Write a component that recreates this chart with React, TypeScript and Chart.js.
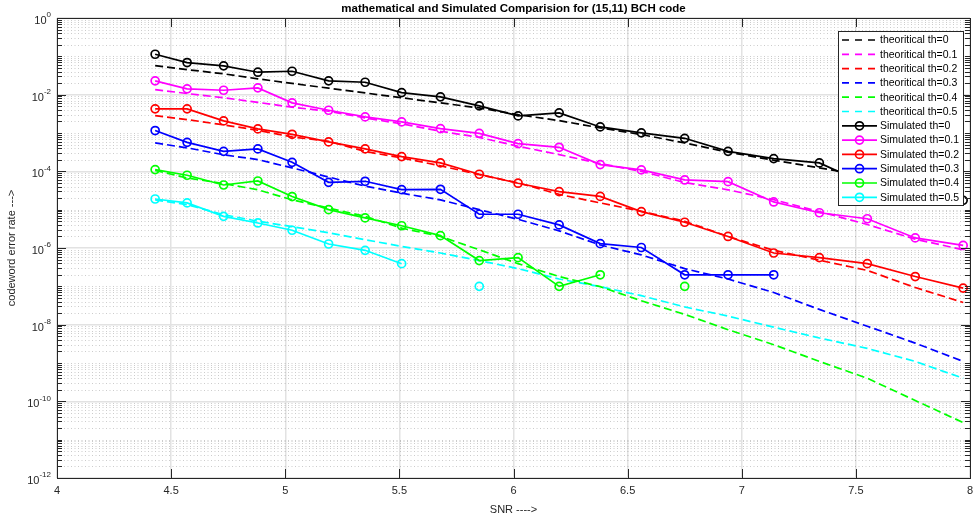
import React, { useEffect, useRef } from 'react';
import { Chart, registerables } from 'chart.js';

Chart.register(...registerables);

// ---------------- data ----------------
const SNR = [4.43, 4.57, 4.73, 4.88, 5.03, 5.19, 5.35, 5.51, 5.68, 5.85, 6.02, 6.2, 6.38, 6.56, 6.75, 6.94, 7.14, 7.34, 7.55, 7.76, 7.97];

const THEORY_TH0 = [0.0575, 0.045, 0.035, 0.0259, 0.0196, 0.0148, 0.0111, 0.0083, 0.0061, 0.0045, 0.003, 0.0021, 0.00136, 0.00091, 0.00055, 0.000316, 0.000195, 0.000123, 7.6e-5, 4.7e-5, 2.9e-5];
const THEORY_TH1 = [0.0136, 0.0107, 0.0083, 0.0063, 0.0047, 0.0037, 0.00247, 0.00173, 0.00111, 0.00077, 0.00045, 0.000274, 0.000159, 0.0001, 5.1e-5, 3.3e-5, 1.82e-5, 8.9e-6, 4.1e-6, 1.7e-6, 9e-7];
const THEORY_TH2 = [0.00284, 0.00224, 0.00163, 0.00118, 0.00079, 0.00061, 0.00033, 0.000224, 0.00014, 8.2e-5, 5e-5, 2.5e-5, 1.5e-5, 9.1e-6, 5e-6, 2e-6, 8.7e-7, 4.8e-7, 2.6e-7, 9.3e-8, 3.8e-8];
const THEORY_TH3 = [0.00055, 0.00041, 0.00027, 0.000203, 0.000123, 7.1e-5, 4.1e-5, 2.7e-5, 1.8e-5, 1.0e-5, 5.6e-6, 2.8e-6, 1.2e-6, 6.6e-7, 2.9e-7, 1.55e-7, 6.9e-8, 2.5e-8, 9.1e-9, 3.3e-9, 1.1e-9];
const THEORY_TH4 = [0.000106, 6.7e-5, 4.8e-5, 3.3e-5, 1.8e-5, 1.1e-5, 6.7e-6, 3.3e-6, 2e-6, 9e-7, 3.9e-7, 1.8e-7, 9.8e-8, 4.2e-8, 1.86e-8, 7.4e-9, 3e-9, 1.1e-9, 4e-10, 1.05e-10, 2.8e-11];
const THEORY_TH5 = [1.8e-5, 1.35e-5, 7.4e-6, 5e-6, 3.6e-6, 2.5e-6, 1.65e-6, 1.1e-6, 7.4e-7, 4.7e-7, 2.9e-7, 1.55e-7, 9.8e-8, 5.7e-8, 2.9e-8, 1.67e-8, 8.6e-9, 4.5e-9, 2.4e-9, 1.1e-9, 4e-10];

const SIM_TH0 = [0.1135, 0.0689, 0.0565, 0.0385, 0.0408, 0.0229, 0.0211, 0.01135, 0.00877, 0.0051, 0.00279, 0.00335, 0.00144, 0.00101, 0.000727, 0.000333, 0.000215, 0.000166, 4.5e-5, 3e-5, 1.75e-5];
const SIM_TH1 = [0.0229, 0.01417, 0.01303, 0.01504, 0.0061, 0.00392, 0.00263, 0.00195, 0.0013, 0.00098, 0.000528, 0.000424, 0.00015, 0.000109, 5.96e-5, 5.38e-5, 1.59e-5, 8.3e-6, 5.8e-6, 1.83e-6, 1.17e-6];
const SIM_TH2 = [0.00426, 0.00426, 0.00207, 0.00128, 0.000925, 0.000586, 0.000385, 0.000242, 0.000166, 8.4e-5, 4.9e-5, 2.95e-5, 2.22e-5, 8.9e-6, 4.7e-6, 2.0e-6, 7.4e-7, 5.6e-7, 3.9e-7, 1.8e-7, 9.0e-8];
const SIM_TH3 = [0.00116, 0.000571, 0.000333, 0.000385, 0.000172, 5.16e-5, 5.5e-5, 3.33e-5, 3.4e-5, 7.6e-6, 7.6e-6, 4e-6, 1.3e-6, 1.03e-6, 2e-7, 2e-7, 2e-7, null, null, null, null];
const SIM_TH4 = [1.11e-4, 7.9e-5, 4.4e-5, 5.6e-5, 2.2e-5, 1.0e-5, 6.1e-6, 3.8e-6, 2.1e-6, 4.7e-7, 5.6e-7, 1e-7, 2e-7, null, 1e-7, null, null, null, null, null, null];
const SIM_TH5 = [1.9e-5, 1.5e-5, 6.7e-6, 4.5e-6, 2.9e-6, 1.27e-6, 8.7e-7, 3.9e-7, null, 1e-7, null, null, null, null, null, null, null, null, null, null, null];

const THEORY_LABELS = ['theoritical th=0', 'theoritical th=0.1', 'theoritical th=0.2', 'theoritical th=0.3', 'theoritical th=0.4', 'theoritical th=0.5'];
const SIM_LABELS = ['Simulated th=0', 'Simulated th=0.1', 'Simulated th=0.2', 'Simulated th=0.3', 'Simulated th=0.4', 'Simulated th=0.5'];
const COLORS = ['#000000', '#ff00ff', '#ff0000', '#0000ff', '#00ff00', '#00ffff'];

const X_TICKS = [4, 4.5, 5, 5.5, 6, 6.5, 7, 7.5, 8];
const Y_TICK_EXPONENTS = [0, -2, -4, -6, -8, -10, -12];

const TITLE = 'mathematical and Simulated Comparision for (15,11) BCH code';
const X_TITLE = 'SNR ---->';
const Y_TITLE = 'codeword error rate --->';

// ---------------- layout ----------------
const W = 976;
const H = 520;
const AREA = { left: 57, right: 970, top: 18, bottom: 478 };
const FONT = '"Liberation Sans", Arial, Helvetica, sans-serif';
const AXIS_COLOR = '#262626';
const DASH = [8, 4];
const LINE_W = 1.7;

const THEORY = [THEORY_TH0, THEORY_TH1, THEORY_TH2, THEORY_TH3, THEORY_TH4, THEORY_TH5];
const SIM = [SIM_TH0, SIM_TH1, SIM_TH2, SIM_TH3, SIM_TH4, SIM_TH5];

const decorPlugin = {
  id: 'matlabDecor',
  beforeDatasetsDraw(chart: any) {
    const { ctx, chartArea } = chart;
    const y = chart.scales.y;
    ctx.save();
    ctx.strokeStyle = 'rgba(0,0,0,0.2)';
    ctx.lineWidth = 1;
    ctx.setLineDash([1, 2.5]);
    for (let e = -12; e < 0; e++) {
      for (let m = 1; m <= 9; m++) {
        if (m === 1 && e % 2 === 0) continue;
        const py = Math.round(y.getPixelForValue(m * Math.pow(10, e))) + 0.5;
        ctx.beginPath();
        ctx.moveTo(chartArea.left, py);
        ctx.lineTo(chartArea.right, py);
        ctx.stroke();
      }
    }
    ctx.restore();
  },
  afterDraw(chart: any) {
    const { ctx, chartArea } = chart;
    const xs = chart.scales.x;
    const ys = chart.scales.y;
    const { left, right, top, bottom } = chartArea;
    ctx.save();
    ctx.setLineDash([]);
    // box
    ctx.strokeStyle = AXIS_COLOR;
    ctx.lineWidth = 1;
    ctx.strokeRect(Math.round(left) + 0.5, Math.round(top) + 0.5, Math.round(right - left), Math.round(bottom - top));
    // x ticks
    ctx.beginPath();
    X_TICKS.forEach((v) => {
      const px = Math.round(xs.getPixelForValue(v)) + 0.5;
      ctx.moveTo(px, bottom);
      ctx.lineTo(px, bottom - 9);
      ctx.moveTo(px, top);
      ctx.lineTo(px, top + 9);
    });
    // y ticks
    for (let e = -12; e <= 0; e++) {
      for (let m = 1; m <= 9; m++) {
        if (e === 0 && m > 1) break;
        const major = m === 1 && e % 2 === 0;
        const len = major ? 9 : 5;
        const py = Math.round(ys.getPixelForValue(m * Math.pow(10, e))) + 0.5;
        ctx.moveTo(left, py);
        ctx.lineTo(left + len, py);
        ctx.moveTo(right, py);
        ctx.lineTo(right - len, py);
      }
    }
    ctx.stroke();

    // x tick labels
    ctx.fillStyle = AXIS_COLOR;
    ctx.font = `11px ${FONT}`;
    ctx.textAlign = 'center';
    ctx.textBaseline = 'top';
    X_TICKS.forEach((v) => {
      const px = xs.getPixelForValue(v);
      ctx.fillText(Number.isInteger(v) ? String(v) : v.toFixed(1), px, bottom + 7);
    });
    // y tick labels
    Y_TICK_EXPONENTS.forEach((e) => {
      const py = ys.getPixelForValue(Math.pow(10, e));
      const expStr = String(e);
      ctx.font = `8px ${FONT}`;
      const ew = ctx.measureText(expStr).width;
      ctx.textAlign = 'left';
      ctx.textBaseline = 'middle';
      const xEnd = left - 6;
      ctx.fillText(expStr, xEnd - ew, py - 3);
      ctx.font = `11px ${FONT}`;
      ctx.textAlign = 'right';
      ctx.fillText('10', xEnd - ew, py + 3);
    });

    // titles
    ctx.fillStyle = '#000000';
    ctx.font = `bold 11.5px ${FONT}`;
    ctx.textAlign = 'center';
    ctx.textBaseline = 'middle';
    ctx.fillText(TITLE, (left + right) / 2, 9);
    ctx.fillStyle = AXIS_COLOR;
    ctx.font = `11px ${FONT}`;
    ctx.fillText(X_TITLE, (left + right) / 2, 510);
    ctx.save();
    ctx.translate(12, (top + bottom) / 2);
    ctx.rotate(-Math.PI / 2);
    ctx.fillText(Y_TITLE, 0, 0);
    ctx.restore();

    // legend
    const lx = 838, ly = 31, lw = 125, lh = 174;
    ctx.fillStyle = '#ffffff';
    ctx.fillRect(lx, ly, lw, lh);
    ctx.strokeStyle = AXIS_COLOR;
    ctx.lineWidth = 1;
    ctx.strokeRect(lx + 0.5, ly + 0.5, lw, lh);
    const entries = [
      ...THEORY_LABELS.map((t, i) => ({ text: t, color: COLORS[i], dashed: true })),
      ...SIM_LABELS.map((t, i) => ({ text: t, color: COLORS[i], dashed: false })),
    ];
    entries.forEach((en, i) => {
      const ey = 40 + i * 14.3;
      ctx.strokeStyle = en.color;
      ctx.lineWidth = LINE_W;
      ctx.setLineDash(en.dashed ? [7, 6] : []);
      ctx.beginPath();
      ctx.moveTo(842, ey);
      ctx.lineTo(877, ey);
      ctx.stroke();
      ctx.setLineDash([]);
      if (!en.dashed) {
        ctx.beginPath();
        ctx.arc(859.5, ey, 4, 0, Math.PI * 2);
        ctx.stroke();
      }
      ctx.fillStyle = '#000000';
      ctx.font = `10.5px ${FONT}`;
      ctx.textAlign = 'left';
      ctx.textBaseline = 'middle';
      ctx.fillText(en.text, 880, ey + 0.5);
    });
    ctx.restore();
  },
};

export default function App() {
  const ref = useRef<HTMLCanvasElement | null>(null);
  useEffect(() => {
    if (!ref.current) return;
    const datasets: any[] = [
      ...THEORY.map((vals, i) => ({
        label: THEORY_LABELS[i],
        data: SNR.map((x, j) => ({ x, y: vals[j] })),
        borderColor: COLORS[i],
        backgroundColor: COLORS[i],
        borderWidth: LINE_W,
        borderDash: DASH,
        pointRadius: 0,
        fill: false,
        tension: 0,
        order: 2,
      })),
      ...SIM.map((vals, i) => ({
        label: SIM_LABELS[i],
        data: SNR.map((x, j) => ({ x, y: vals[j] })),
        borderColor: COLORS[i],
        backgroundColor: 'rgba(0,0,0,0)',
        borderWidth: LINE_W,
        pointRadius: 4,
        pointBorderWidth: LINE_W,
        pointBackgroundColor: 'rgba(0,0,0,0)',
        pointBorderColor: COLORS[i],
        pointStyle: 'circle',
        spanGaps: false,
        fill: false,
        tension: 0,
        order: 1,
      })),
    ];
    const chart = new Chart(ref.current, {
      type: 'line',
      data: { datasets },
      options: {
        responsive: false,
        animation: false,
        devicePixelRatio: 1,
        layout: { padding: { top: AREA.top, right: W - AREA.right, left: 0, bottom: 0 } },
        plugins: { legend: { display: false }, tooltip: { enabled: false }, title: { display: false } },
        scales: {
          x: {
            type: 'linear',
            min: 4,
            max: 8,
            afterBuildTicks: (s: any) => {
              s.ticks = X_TICKS.map((v) => ({ value: v }));
            },
            afterFit: (s: any) => {
              s.height = H - AREA.bottom;
            },
            ticks: { display: false },
            grid: { color: '#e2e2e2', lineWidth: 1.5, drawTicks: false },
            border: { display: false },
          },
          y: {
            type: 'logarithmic',
            min: 1e-12,
            max: 1,
            afterBuildTicks: (s: any) => {
              s.ticks = Y_TICK_EXPONENTS.map((e) => ({ value: Math.pow(10, e) }));
            },
            afterFit: (s: any) => {
              s.width = AREA.left;
            },
            ticks: { display: false },
            grid: { color: '#e2e2e2', lineWidth: 1.5, drawTicks: false },
            border: { display: false },
          },
        },
      } as any,
      plugins: [decorPlugin],
    });
    return () => chart.destroy();
  }, []);
  return (
    <div style={{ position: 'fixed', left: 0, top: 0, width: W, height: H, background: '#ffffff' }}>
      <canvas ref={ref} width={W} height={H} style={{ width: W, height: H, display: 'block' }} />
    </div>
  );
}
